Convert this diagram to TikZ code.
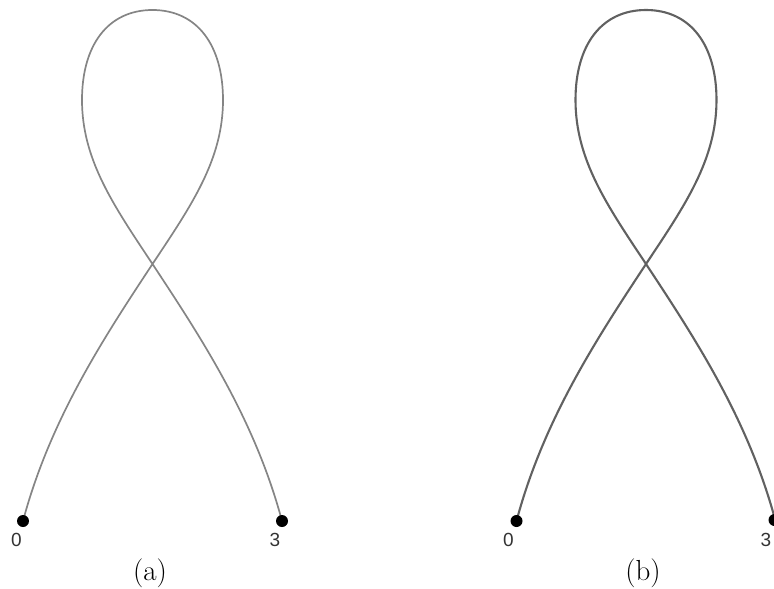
\documentclass[tikz,border=0pt]{standalone}
\usepackage{fontspec}
\newfontfamily\labfont{Liberation Sans}
\begin{document}
\begin{tikzpicture}[x=1pt,y=-1pt,
  curvea/.style={draw=black!48,line width=1.7pt},
  curveb/.style={draw=black!62,line width=2.1pt},
  enddot/.style={circle,fill=black,inner sep=0pt,minimum size=12pt},
  numlab/.style={font=\labfont\fontsize{19}{20}\selectfont,text=black!80,inner sep=0pt},
  caplab/.style={font=\fontsize{29}{32}\selectfont,inner sep=0pt}]
\useasboundingbox (0,0) rectangle (774,589);
\newcommand\loopcurve{(23,521) .. controls (50,420) and (103,339) .. (152.5,264)
  .. controls (191,206) and (223,160) .. (223,100)
  .. controls (223,45) and (197,10) .. (152.5,10)
  .. controls (108,10) and (82,45) .. (82,100)
  .. controls (82,160) and (114,206) .. (152.5,264)
  .. controls (202,339) and (255,420) .. (282,521)}
% (a)
\draw[curvea] \loopcurve;
\node[enddot] (a0) at (23,521) {};
\node[enddot] (a3) at (282,521) {};
\node[numlab] (la0) at (16.5,540) {0};
\node[numlab] (la3) at (275,540) {3};
\node[caplab] (capa) at (150,573) {(a)};
% (b)
\begin{scope}[xshift=493.5pt]
\draw[curveb] \loopcurve;
\node[enddot] (b0) at (23,521) {};
\node[enddot] (b3) at (281,520) {};
\node[numlab] (lb0) at (15,540) {0};
\node[numlab] (lb3) at (272.5,540) {3};
\node[caplab] (capb) at (149.5,573) {(b)};
\end{scope}
\end{tikzpicture}
\end{document}
